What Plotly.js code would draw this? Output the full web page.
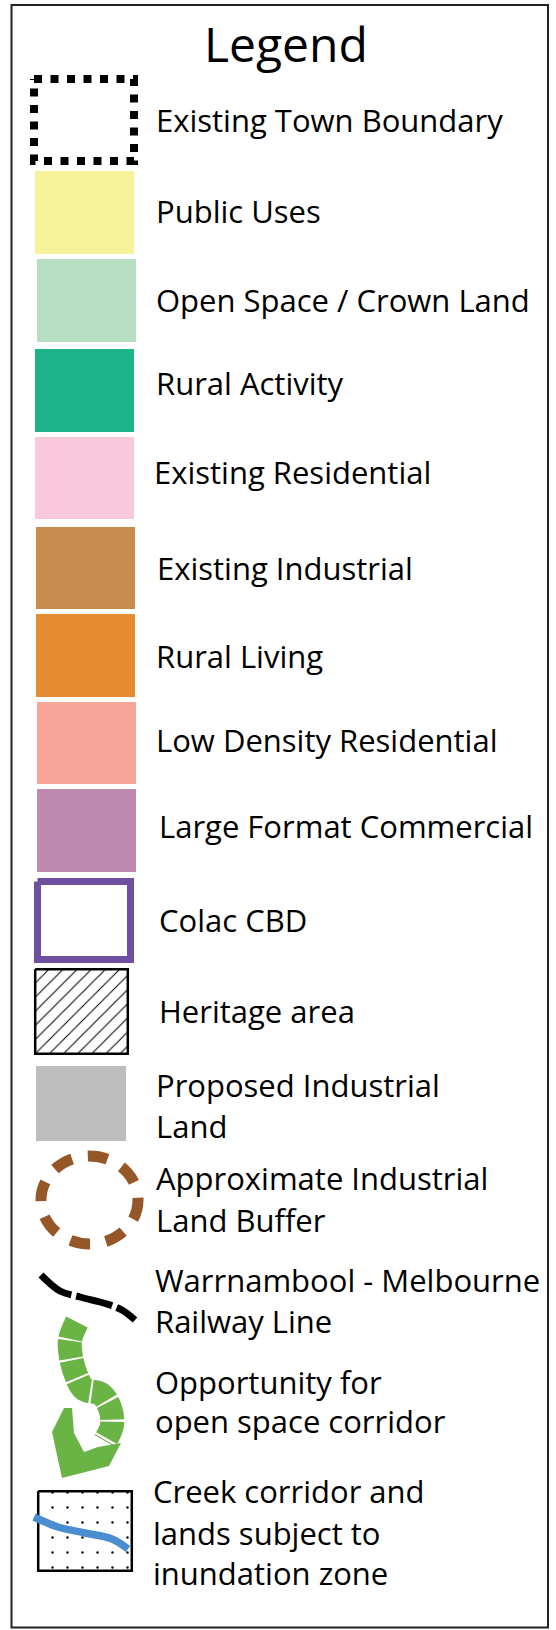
<!DOCTYPE html>
<html><head><meta charset="utf-8">
<script src="https://cdn.plot.ly/plotly-3.0.1.min.js"></script>
<style>html,body{margin:0;padding:0;background:#fff;}#chart{width:556px;height:1630px;}</style>
</head><body><div id="chart"></div>
<script>
// ---------------- data ----------------
const legendTitle = "Legend";
const labels = [
  "Existing Town Boundary",
  "Public Uses",
  "Open Space / Crown Land",
  "Rural Activity",
  "Existing Residential",
  "Existing Industrial",
  "Rural Living",
  "Low Density Residential",
  "Large Format Commercial",
  "Colac CBD",
  "Heritage area",
  "Proposed Industrial<br>Land",
  "Approximate Industrial<br>Land Buffer",
  "Warrnambool - Melbourne<br>Railway Line",
  "Opportunity for<br>open space corridor",
  "Creek corridor and<br>lands subject to<br>inundation zone"
];
const symbolKinds = ["dotbox","fill","fill","fill","fill","fill","fill","fill","fill",
  "outline","hatch","fill","dashring","rail","corridor","creek"];

// ---------------- styles ----------------
const swatchColors = ["#000000","#F6F29A","#B5DEC3","#1DB38B","#F8C8DC","#C78B4E","#E68C30",
  "#F6A598","#BF8AB2","#6F4F9F","#000000","#BDBDBD","#955628","#000000","#6AB345","#4A8DD0"];
const FONT = "Open Sans, Noto Sans, sans-serif";
const TEXT_SIZE = 31, TITLE_SIZE = 48;

// ---------------- layout geometry (page pixels) ----------------
const W = 556, H = 1630;
// swatch boxes [x0, x1, y0, y1]
const swatchBox = [
  [34,134,79,161],[35,134,171,254],[37,136,259,342],[35,134,349,432],[35,134,437,519],
  [36,135,527,609],[36,135,614,697],[37,136,702,784],[37,136,789,872],[34,134,878,963],
  [34,129,968,1055],[36,126,1066,1141],[35,144,1150,1250],[40,137,1273,1322],
  [52,120,1318,1476],[37,133,1490,1572]
];
const textX = [154,154,154,154,152,155,154,154,157,157,157,154,154,153,153,151];
const baselines = [[132],[223],[312],[395],[484],[580],[668],[752],[838],[932],[1023],
  [1097,1138],[1190,1232],[1292,1333],[1394,1433],[1503,1545,1585]];
// icon outlines (page pixels)
const railPath = {x:[41,60,80,107,122,135], y:[1275,1291,1297,1304,1310,1320]};
const corridorBand = {x:[77,70,71,76,84,101,110,112,105], y:[1322,1340,1357,1375,1389,1394,1408,1425,1441]};
const corridorFoot = {x:[64,52,62,109,121,98,84,74,72], y:[1408,1432,1478,1466,1443,1447,1452,1433,1408]};
const creekLine = {x:[34,58,85,112,128], y:[1517,1527,1533,1539,1549]};

// ---------------- build ----------------
const traces = [];
const shapes = [];
const annotations = [];

function rectPath(b, inset){
  const i = inset || 0;
  return {x:[b[0]+i,b[1]-i,b[1]-i,b[0]+i,b[0]+i], y:[b[2]+i,b[2]+i,b[3]-i,b[3]-i,b[2]+i]};
}
const base = {type:'scatter', mode:'lines', hoverinfo:'skip', showlegend:false};

labels.forEach((lab, i) => {
  const kind = symbolKinds[i], col = swatchColors[i], b = swatchBox[i];
  if (kind === 'fill') {
    const p = rectPath(b);
    traces.push(Object.assign({}, base, {x:p.x, y:p.y, fill:'toself', fillcolor:col, line:{width:0, color:col}}));
  } else if (kind === 'dotbox') {
    const p = rectPath(b);
    traces.push(Object.assign({}, base, {x:p.x, y:p.y, line:{color:col, width:8, dash:'8px,8.5px'}}));
  } else if (kind === 'outline') {
    const p = rectPath(b, 3.5);
    traces.push(Object.assign({}, base, {x:p.x, y:p.y, fill:'toself', fillcolor:'#ffffff', line:{color:col, width:7}}));
  } else if (kind === 'hatch') {
    const p = rectPath(b, 1.2);
    traces.push(Object.assign({}, base, {x:p.x, y:p.y, fill:'toself', fillcolor:'rgba(0,0,0,0)',
      fillpattern:{shape:'/', size:10, solidity:0.1, fgcolor:'#000', bgcolor:'#fff'},
      line:{color:col, width:2.5}}));
  } else if (kind === 'dashring') {
    shapes.push({type:'circle', xref:'x', yref:'y', x0:b[0]+6, x1:b[1]-6, y0:b[2]+6, y1:b[3]-6,
      line:{color:col, width:11, dash:'20px,16px'}, fillcolor:'rgba(0,0,0,0)'});
  } else if (kind === 'rail') {
    traces.push(Object.assign({}, base, {x:railPath.x, y:railPath.y, line:{color:col, width:7, dash:'37px,5px', shape:'spline'}}));
  } else if (kind === 'corridor') {
    traces.push(Object.assign({}, base, {x:corridorBand.x, y:corridorBand.y, line:{color:col, width:24, dash:'18px,2px', shape:'spline'}}));
    traces.push(Object.assign({}, base, {x:corridorFoot.x, y:corridorFoot.y, fill:'toself', fillcolor:col, line:{width:0, color:col}}));
  } else if (kind === 'creek') {
    const p = rectPath(b, 1.2);
    traces.push(Object.assign({}, base, {x:p.x, y:p.y, fill:'toself', fillcolor:'rgba(0,0,0,0)',
      fillpattern:{shape:'.', size:15, solidity:0.02, fgcolor:'#000', bgcolor:'#fff'},
      line:{color:'#000', width:2.5}}));
    traces.push(Object.assign({}, base, {x:creekLine.x, y:creekLine.y, line:{color:col, width:7.5, shape:'spline'}}));
  }
  const lines = lab.split('<br>');
  lines.forEach((t, k) => {
    annotations.push({xref:'x', yref:'y', x:textX[i], y:baselines[i][k] - 0.39*TEXT_SIZE,
      xanchor:'left', yanchor:'middle', text:t, showarrow:false,
      font:{family:FONT, size:TEXT_SIZE, color:'#000'}});
  });
});

annotations.push({xref:'x', yref:'y', x:286, y:62 - 0.39*TITLE_SIZE, xanchor:'center', yanchor:'middle',
  text:legendTitle, showarrow:false, font:{family:FONT, size:TITLE_SIZE, color:'#000'}});

// outer frame
shapes.unshift({type:'rect', xref:'x', yref:'y', x0:11.5, x1:548, y0:5, y1:1627.5,
  line:{color:'#222', width:2}, fillcolor:'rgba(0,0,0,0)', layer:'below'});

const layout = {
  width:W, height:H, margin:{l:0,r:0,t:0,b:0,pad:0},
  paper_bgcolor:'#ffffff', plot_bgcolor:'#ffffff',
  xaxis:{range:[0,W], visible:false, fixedrange:true},
  yaxis:{range:[H,0], visible:false, fixedrange:true},
  shapes:shapes, annotations:annotations, showlegend:false, hovermode:false
};
Plotly.newPlot('chart', traces, layout, {staticPlot:true, displayModeBar:false});
</script>
</body></html>
